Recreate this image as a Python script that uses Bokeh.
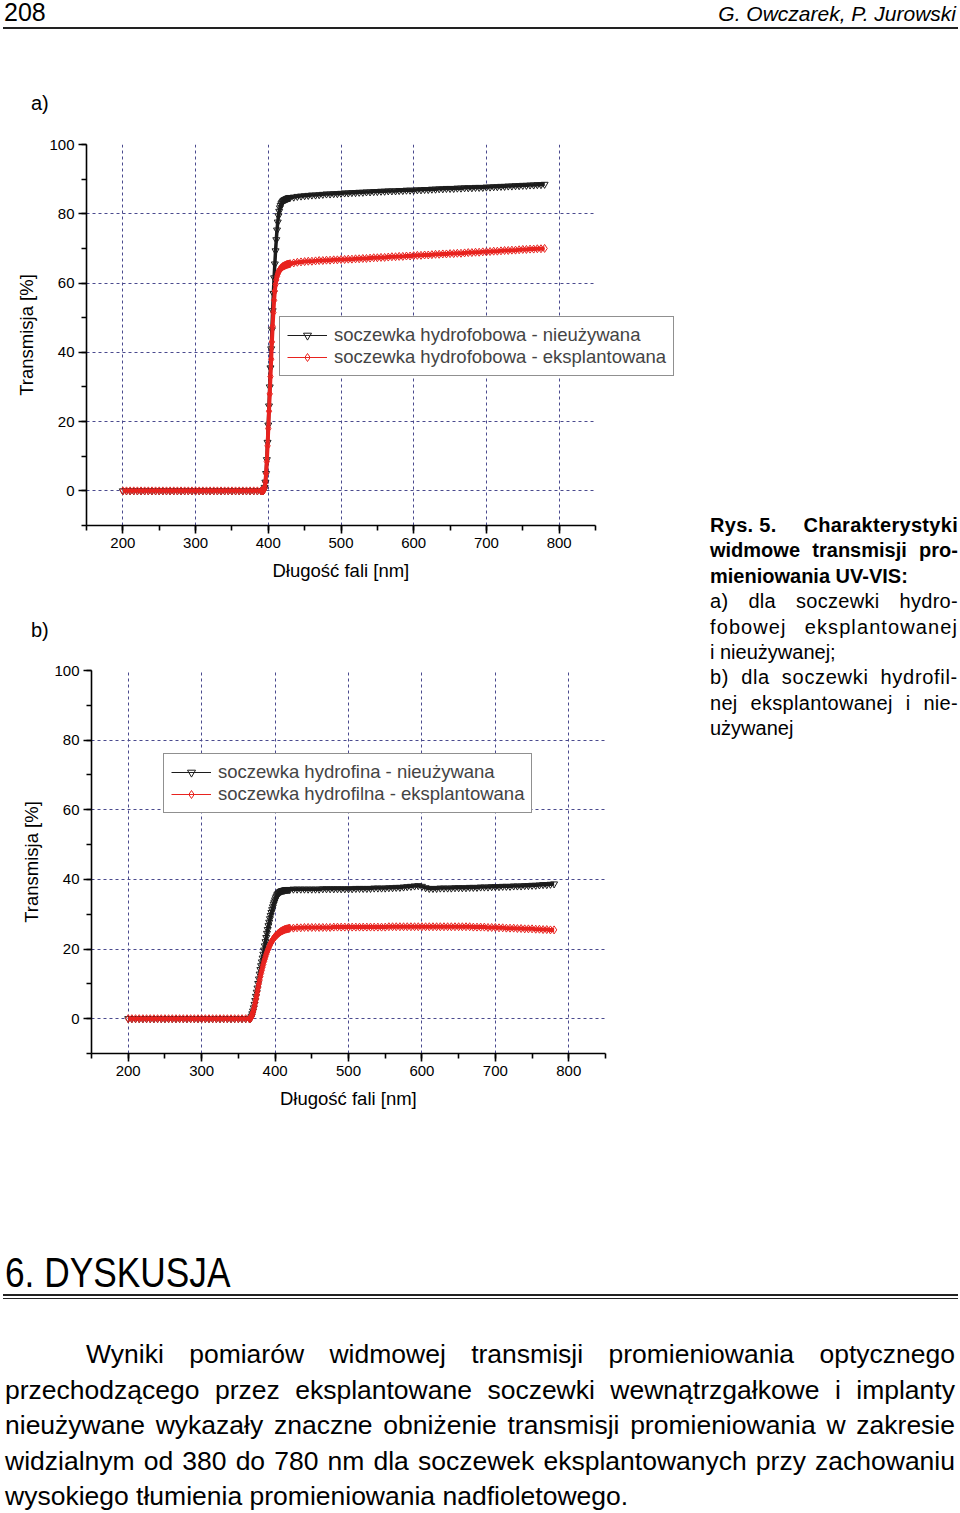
from bokeh.plotting import figure
from bokeh.models import Div, SingleIntervalTicker, Legend, LegendItem, Range1d, Title
from bokeh.layouts import column, row
from bokeh.embed import file_html
from bokeh.resources import INLINE

# ---------------- data ----------------
# chart a) hydrophobic lens
wl_a = list(range(200, 391, 5)) + list(range(391, 431)) + list(range(435, 781, 5))
black_a_uv = [0, 0, 0, 0, 0, 0, 0, 0, 0, 0,
              0, 0, 0, 0, 0, 0, 0, 0, 0, 0,
              0, 0, 0, 0, 0, 0, 0, 0, 0, 0,
              0, 0, 0, 0, 0, 0, 0, 0, 0]
black_a_edge = [0, 0, 0, 0.3, 1.0, 2.5, 5.0, 9.0, 14.0, 19.0,
                24.5, 30.0, 35.5, 41.0, 46.5, 52.0, 57.0, 61.5, 65.5, 69.3,
                72.5, 75.3, 77.6, 79.4, 80.7, 81.7, 82.4, 82.9, 83.3, 83.6,
                83.8, 84.0, 84.1, 84.2, 84.3, 84.4, 84.5, 84.6, 84.6, 84.7]
black_a_vis = [84.8, 85.0, 85.1, 85.2, 85.3, 85.4, 85.4, 85.5, 85.6, 85.7,
               85.7, 85.8, 85.8, 85.9, 86.0, 86.0, 86.1, 86.1, 86.2, 86.2,
               86.3, 86.3, 86.4, 86.4, 86.5, 86.5, 86.6, 86.6, 86.6, 86.7,
               86.7, 86.8, 86.8, 86.8, 86.9, 86.9, 87.0, 87.0, 87.1, 87.1,
               87.2, 87.2, 87.3, 87.3, 87.3, 87.4, 87.4, 87.5, 87.5, 87.5,
               87.6, 87.6, 87.6, 87.7, 87.7, 87.8, 87.8, 87.9, 87.9, 88.0,
               88.0, 88.1, 88.1, 88.2, 88.2, 88.3, 88.3, 88.4, 88.4, 88.5]
red_a_uv = [0, 0, 0, 0, 0, 0, 0, 0, 0, 0,
            0, 0, 0, 0, 0, 0, 0, 0, 0, 0,
            0, 0, 0, 0, 0, 0, 0, 0, 0, 0,
            0, 0, 0, 0, 0, 0, 0, 0, 0]
red_a_edge = [0, 0, 0, 0.3, 1.0, 2.5, 5.0, 8.5, 13.0, 18.0,
              23.0, 28.0, 33.0, 38.0, 43.0, 47.5, 51.5, 55.0, 57.7, 59.6,
              60.9, 61.9, 62.6, 63.2, 63.6, 63.9, 64.2, 64.4, 64.6, 64.8,
              64.9, 65.0, 65.1, 65.2, 65.3, 65.4, 65.4, 65.5, 65.5, 65.6]
red_a_vis = [65.8, 66.0, 66.1, 66.2, 66.3, 66.3, 66.4, 66.5, 66.5, 66.6,
             66.6, 66.7, 66.7, 66.8, 66.8, 66.9, 66.9, 67.0, 67.0, 67.1,
             67.1, 67.2, 67.3, 67.3, 67.4, 67.4, 67.5, 67.6, 67.6, 67.7,
             67.7, 67.8, 67.8, 67.9, 68.0, 68.0, 68.1, 68.1, 68.2, 68.3,
             68.3, 68.4, 68.4, 68.5, 68.5, 68.6, 68.6, 68.7, 68.8, 68.8,
             68.9, 68.9, 69.0, 69.0, 69.1, 69.2, 69.2, 69.3, 69.4, 69.4,
             69.5, 69.5, 69.6, 69.7, 69.7, 69.8, 69.8, 69.9, 69.9, 70.0]

# chart b) hydrophilic lens
wl_b = list(range(200, 366, 5)) + list(range(366, 421)) + list(range(425, 781, 5))
black_b_uv = [0, 0, 0, 0, 0, 0, 0, 0, 0, 0,
              0, 0, 0, 0, 0, 0, 0, 0, 0, 0,
              0, 0, 0, 0, 0, 0, 0, 0, 0, 0,
              0, 0, 0, 0]
black_b_edge = [0, 0.2, 0.7, 1.4, 2.2, 3.1, 4.1, 5.2, 6.4, 7.6,
                8.8, 10.1, 11.4, 12.8, 14.1, 15.2, 16.3, 17.4, 18.5, 19.7,
                20.9, 22.1, 23.3, 24.5, 25.6, 26.7, 27.7, 28.7, 29.6, 30.5,
                31.3, 32.1, 32.9, 33.5, 34.1, 34.7, 35.2, 35.6, 35.9, 36.1,
                36.3, 36.5, 36.6, 36.7, 36.8, 36.8, 36.9, 36.9, 37.0, 37.0,
                37.0, 37.1, 37.1, 37.1, 37.1]
black_b_vis = [37.2, 37.2, 37.2, 37.2, 37.2, 37.2, 37.2, 37.2, 37.3, 37.3,
               37.3, 37.3, 37.3, 37.3, 37.3, 37.3, 37.3, 37.4, 37.4, 37.4,
               37.4, 37.4, 37.5, 37.5, 37.5, 37.5, 37.6, 37.6, 37.7, 37.7,
               37.8, 37.9, 38.0, 38.1, 38.2, 38.0, 37.6, 37.4, 37.4, 37.4,
               37.5, 37.5, 37.5, 37.5, 37.6, 37.6, 37.6, 37.6, 37.7, 37.7,
               37.7, 37.8, 37.8, 37.8, 37.9, 37.9, 37.9, 38.0, 38.0, 38.0,
               38.1, 38.1, 38.1, 38.2, 38.2, 38.3, 38.3, 38.4, 38.5, 38.5,
               38.6, 38.7]
red_b_uv = [0, 0, 0, 0, 0, 0, 0, 0, 0, 0,
            0, 0, 0, 0, 0, 0, 0, 0, 0, 0,
            0, 0, 0, 0, 0, 0, 0, 0, 0, 0,
            0, 0, 0, 0]
red_b_edge = [0, 0.2, 0.6, 1.2, 1.9, 2.7, 3.6, 4.6, 5.6, 6.7,
              7.8, 8.9, 10.0, 11.1, 12.1, 13.0, 13.9, 14.8, 15.6, 16.4,
              17.1, 17.8, 18.5, 19.1, 19.7, 20.2, 20.7, 21.2, 21.6, 22.0,
              22.4, 22.7, 23.0, 23.3, 23.6, 23.8, 24.0, 24.2, 24.4, 24.6,
              24.8, 24.9, 25.1, 25.2, 25.3, 25.4, 25.5, 25.6, 25.7, 25.7,
              25.8, 25.8, 25.9, 25.9, 26.0]
red_b_vis = [26.0, 26.1, 26.1, 26.2, 26.2, 26.2, 26.2, 26.2, 26.2, 26.2,
             26.2, 26.3, 26.3, 26.3, 26.3, 26.3, 26.3, 26.3, 26.3, 26.3,
             26.3, 26.3, 26.3, 26.3, 26.3, 26.3, 26.4, 26.4, 26.4, 26.4,
             26.4, 26.4, 26.4, 26.4, 26.4, 26.4, 26.4, 26.4, 26.4, 26.4,
             26.4, 26.4, 26.4, 26.4, 26.4, 26.4, 26.4, 26.4, 26.4, 26.3,
             26.3, 26.3, 26.3, 26.2, 26.2, 26.2, 26.1, 26.1, 26.0, 26.0,
             26.0, 25.9, 25.9, 25.8, 25.8, 25.8, 25.7, 25.7, 25.6, 25.6,
             25.5, 25.5]

black_a = black_a_uv + black_a_edge + black_a_vis
red_a = red_a_uv + red_a_edge + red_a_vis
black_b = black_b_uv + black_b_edge + black_b_vis
red_b = red_b_uv + red_b_edge + red_b_vis

x_axis_span = (150, 850)
y_axis_span = (-10, 100)
x_ticks_step = 100
y_ticks_step = 20
y_grid_values = [0, 20, 40, 60, 80, 100]
x_label = "Długość fali [nm]"
y_label = "Transmisja [%]"
labels_a = ["soczewka hydrofobowa - nieużywana", "soczewka hydrofobowa - eksplantowana"]
labels_b = ["soczewka hydrofina - nieużywana", "soczewka hydrofilna - eksplantowana"]

# ---------------- styling ----------------
FONT = "Liberation Sans"
BLACK = "#1c1c1c"
RED = "#e8231f"
GRID = "#4a4a8e"
XLABEL_PX = 137.0   # approx. rendered width of the x-axis title


def make_chart(wl, yb, yr, labels, height, borders, axis_px, legend_xy):
    """borders: (left, right, top, bottom) of the figure; axis_px: pixel length of 150..850."""
    bl, br, bt, bb = borders
    fig_w = 705
    frame_w = fig_w - bl - br
    x_end = x_axis_span[0] + frame_w * (x_axis_span[1] - x_axis_span[0]) / axis_px
    n = min(len(wl), len(yb), len(yr))
    p = figure(width=fig_w, height=height,
               x_range=Range1d(x_axis_span[0], x_end), y_range=Range1d(*y_axis_span),
               output_backend="svg", toolbar_location=None,
               min_border_left=bl, min_border_right=br, min_border_top=bt, min_border_bottom=bb)
    if "frame_align" in p.properties():
        p.frame_align = False
    p.outline_line_color = None
    p.xaxis.ticker = SingleIntervalTicker(interval=x_ticks_step, num_minor_ticks=2)
    p.yaxis.ticker = SingleIntervalTicker(interval=y_ticks_step, num_minor_ticks=2)
    p.xaxis.bounds = x_axis_span
    for ax in (p.xaxis[0], p.yaxis[0]):
        ax.axis_line_width = 1.6
        ax.axis_line_color = "black"
        ax.major_tick_line_width = 1.6
        ax.minor_tick_line_width = 1.6
        ax.major_tick_line_color = "black"
        ax.minor_tick_line_color = "black"
        ax.major_tick_out = 8
        ax.major_tick_in = 0
        ax.minor_tick_out = 5
        ax.minor_tick_in = 0
        ax.major_label_text_font = FONT
        ax.major_label_text_font_size = "15px"
        ax.major_label_text_color = "black"
        ax.major_label_standoff = 4
        ax.axis_label_text_font = FONT
        ax.axis_label_text_font_size = "18.5px"
        ax.axis_label_text_font_style = "normal"
        ax.axis_label_text_color = "black"
        ax.axis_label_standoff = 9
    p.yaxis.axis_label = y_label
    # x-axis title centred under the 150..850 span (the frame itself may be wider)
    xt = Title(text=x_label, align="left",
               offset=axis_px / 2.0 - XLABEL_PX / 2.0,
               text_font=FONT, text_font_size="18.5px", text_font_style="normal",
               text_color="black", standoff=15)
    p.add_layout(xt, "below")
    for g in (p.xgrid[0], p.ygrid[0]):
        g.grid_line_color = GRID
        g.grid_line_dash = "3 3"
        g.grid_line_width = 1
    p.xgrid.bounds = x_axis_span
    yg = p.ygrid[0]
    if "cross_bounds" in yg.properties():
        yg.cross_bounds = x_axis_span
    else:
        yg.visible = False
        k = len(y_grid_values)
        p.segment(x0=[x_axis_span[0]] * k, y0=y_grid_values, x1=[x_axis_span[1]] * k,
                  y1=y_grid_values, line_color=GRID, line_dash="3 3", line_width=1)

    # dense measurement points form a band: a wide stroke under the marker outlines
    p.line(wl[:n], yb[:n], line_color=BLACK, line_width=3.5)
    lb = p.line(wl[:n], yb[:n], line_color=BLACK, line_width=1)
    sb = p.scatter(wl[:n], yb[:n], marker="inverted_triangle", size=7, line_color=BLACK,
                   fill_color=None, line_width=1)
    p.line(wl[:n], yr[:n], line_color=RED, line_width=4)
    lr = p.line(wl[:n], yr[:n], line_color=RED, line_width=1)
    sr = p.scatter(wl[:n], yr[:n], marker="diamond", size=8, line_color=RED,
                   fill_color=None, line_width=1)
    legend = Legend(items=[LegendItem(label=labels[0], renderers=[lb, sb]),
                           LegendItem(label=labels[1], renderers=[lr, sr])],
                    location=legend_xy, orientation="vertical",
                    label_text_font=FONT, label_text_font_size="18.5px",
                    glyph_width=40, glyph_height=20, label_height=20, label_standoff=7,
                    padding=7, spacing=0, margin=0,
                    border_line_color="#222222", border_line_width=1.2,
                    background_fill_color="white", background_fill_alpha=1)
    p.add_layout(legend)
    return p


figA = make_chart(wl_a, black_a, red_a, labels_a, 485, (86, 10, 24, 80), 509, (193, 149))
figB = make_chart(wl_b, black_b, red_b, labels_b, 475, (91, 100, 15, 77), 514, (72, 240))

BASE = "font-family:'Liberation Sans',Arial,sans-serif;color:#000;"

header_html = (
    f'<div style="position:relative;width:960px;height:120px;{BASE}">'
    '<div style="position:absolute;left:4px;top:0px;font-size:25px;line-height:25px;">208</div>'
    '<div style="position:absolute;right:4px;top:3px;font-size:21px;line-height:21px;font-style:italic;">'
    'G. Owczarek, P. Jurowski</div>'
    '<div style="position:absolute;left:3px;top:27px;width:955px;height:2px;background:#222;"></div>'
    '<div style="position:absolute;left:31px;top:93px;font-size:20px;line-height:20px;">a)</div>'
    '</div>')
header = Div(text=header_html, width=960, height=120, margin=0)

bdiv = Div(text=(f'<div style="position:relative;width:705px;height:50px;{BASE}">'
                 '<div style="position:absolute;left:31px;top:15px;font-size:20px;line-height:20px;">b)</div>'
                 '</div>'), width=705, height=50, margin=0)


def just_line(text, extra=""):
    spans = "".join(f"<span>{w}</span>" for w in text.split(" "))
    return (f'<div style="display:flex;justify-content:space-between;white-space:nowrap;{extra}">'
            f'{spans}</div>')


def left_line(text, extra=""):
    return f'<div style="white-space:nowrap;{extra}">{text}</div>'


caption_lines = [
    ('<div style="display:flex;justify-content:space-between;white-space:nowrap;font-weight:bold;'
     'letter-spacing:0.3px;"><span>Rys.&nbsp;5.</span><span>Charakterystyki</span></div>'),
    just_line("widmowe transmisji pro-", "font-weight:bold;"),
    left_line("mieniowania UV-VIS:", "font-weight:bold;"),
    just_line("a) dla soczewki hydro-", "letter-spacing:0.3px;"),
    just_line("fobowej eksplantowanej", "letter-spacing:1.1px;"),
    left_line("i nieużywanej;"),
    just_line("b) dla soczewki hydrofil-", "letter-spacing:0.7px;"),
    just_line("nej eksplantowanej i nie-", "letter-spacing:0.3px;"),
    left_line("używanej"),
]
caption_html = (f'<div style="position:relative;width:255px;height:1010px;{BASE}">'
                '<div style="position:absolute;left:5px;top:393px;width:248px;font-size:20px;line-height:25.4px;">'
                + "".join(caption_lines) + '</div></div>')
caption = Div(text=caption_html, width=255, height=1010, margin=0)

heading = "6. DYSKUSJA"
para_lines = [
    "Wyniki pomiarów widmowej transmisji promieniowania optycznego",
    "przechodzącego przez eksplantowane soczewki wewnątrzgałkowe i implanty",
    "nieużywane wykazały znaczne obniżenie transmisji promieniowania w zakresie",
    "widzialnym od 380 do 780 nm dla soczewek eksplantowanych przy zachowaniu",
    "wysokiego tłumienia promieniowania nadfioletowego.",
]
para_html = just_line(para_lines[0], "margin-left:81px;")
for ln in para_lines[1:-1]:
    para_html += just_line(ln)
para_html += left_line(para_lines[-1])

bottom_html = (
    f'<div style="position:relative;width:960px;height:383px;{BASE}">'
    '<div style="position:absolute;left:5px;top:122px;font-size:42px;line-height:42px;'
    f'white-space:nowrap;transform:scaleX(0.84);transform-origin:left top;">{heading}</div>'
    '<div style="position:absolute;left:3px;top:164px;width:955px;height:2px;background:#222;"></div>'
    '<div style="position:absolute;left:3px;top:168px;width:955px;height:1px;background:#222;"></div>'
    '<div style="position:absolute;left:5px;top:207px;width:950px;font-size:26.5px;line-height:35.5px;">'
    + para_html + '</div></div>')
bottom = Div(text=bottom_html, width=960, height=383, margin=0)

layout = column(header, row(column(figA, bdiv, figB), caption), bottom)

with open("out.html", "w", encoding="utf-8") as f:
    f.write(file_html(layout, INLINE))
